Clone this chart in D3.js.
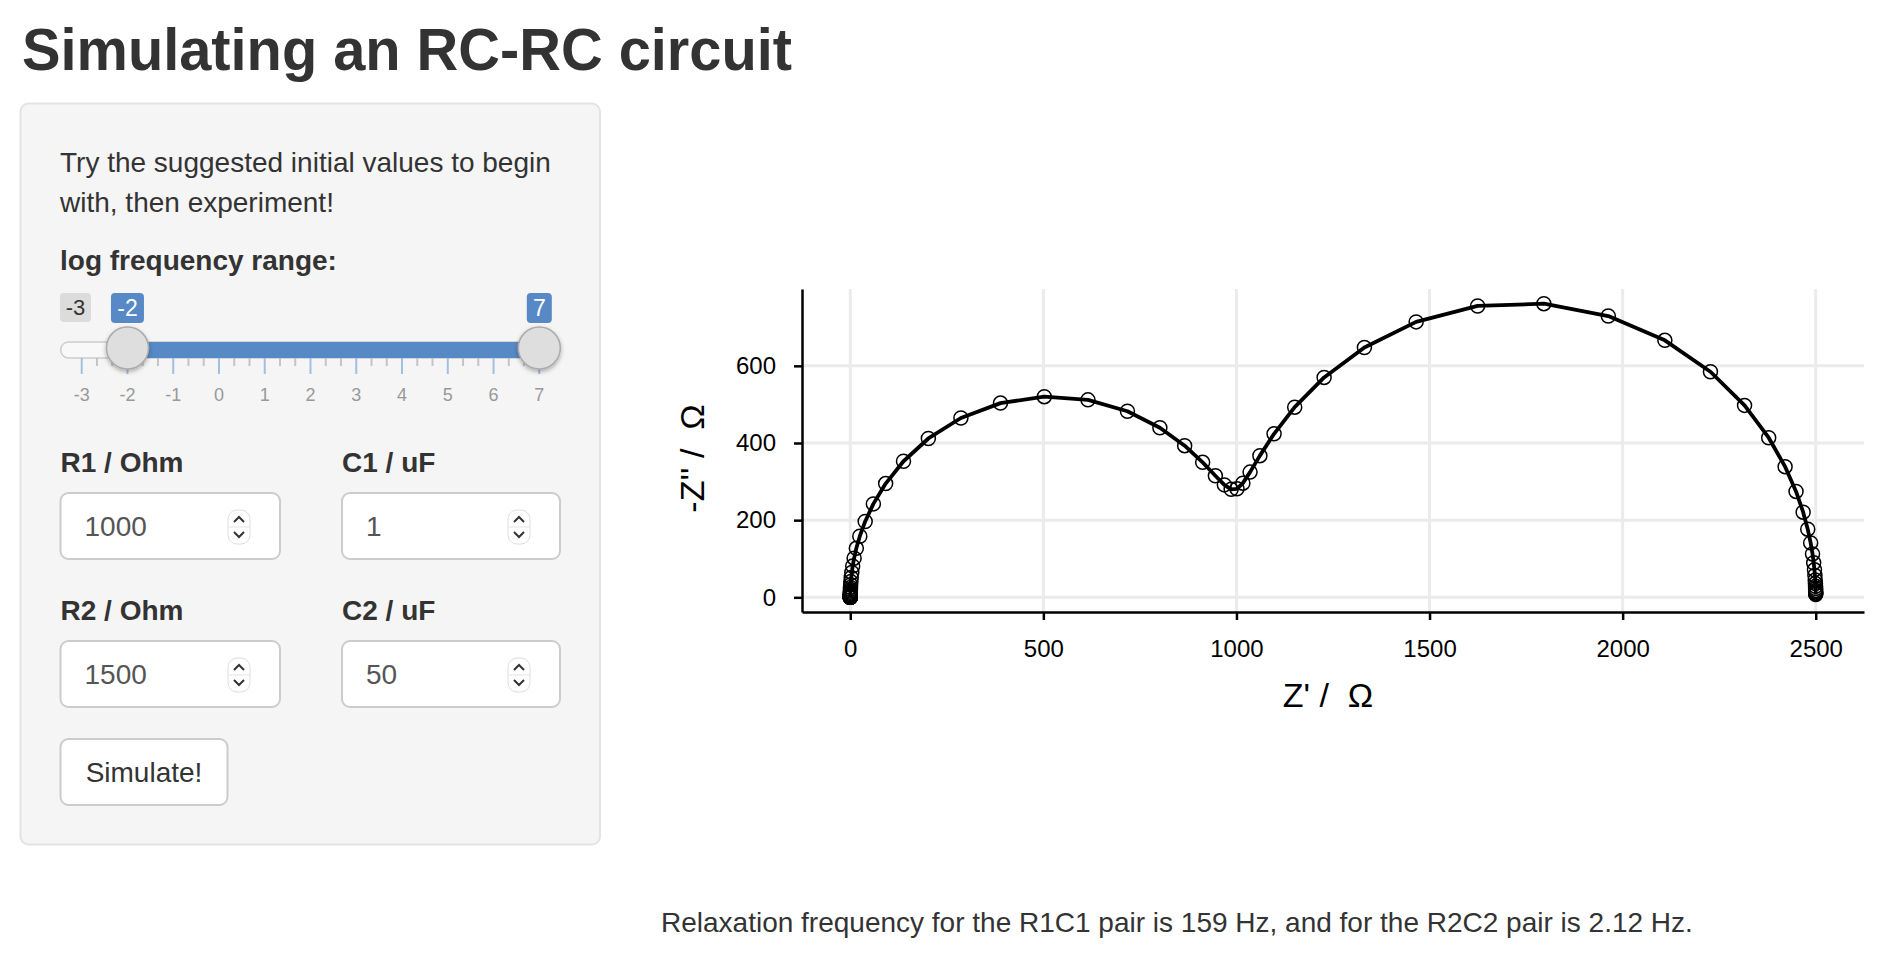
<!DOCTYPE html>
<html>
<head>
<meta charset="utf-8">
<script src="https://cdn.jsdelivr.net/npm/d3@7"></script>
<style>
  html, body { margin: 0; padding: 0; background: #fff; }
  svg { display: block; font-family: "Liberation Sans", Arial, Helvetica, sans-serif; }
</style>
</head>
<body>
<svg id="page" width="1882" height="960"></svg>
<script>
// ---------------- data ----------------
const zReal = [2500.0, 2500.0, 2499.9, 2499.9, 2499.8, 2499.7, 2499.5, 2499.2, 2498.7, 2497.9,
  2496.7, 2494.7, 2491.7, 2486.9, 2479.3, 2467.4, 2449.0, 2420.7, 2378.2, 2315.7,
  2227.4, 2109.4, 1962.8, 1796.0, 1624.5, 1465.3, 1331.3, 1227.0, 1150.8, 1097.4,
  1060.7, 1035.2, 1016.6, 1001.3, 986.3, 968.7, 945.4, 912.5, 865.9, 801.7,
  717.7, 615.5, 502.4, 389.0, 286.5, 202.2, 137.8, 91.6, 59.8, 38.6,
  24.7, 15.7, 10.0, 6.3, 4.0, 2.5, 1.6, 1.0, 0.6, 0.4,
  0.3, 0.2, 0.1, 0.1, 0, 0, 0, 0, 0, 0,
  0, 0, 0, 0, 0, 0, 0, 0, 0, 0,
  0, 0, 0, 0, 0, 0, 0, 0, 0, 0, 0];
const zImagNeg = [7.1, 9.0, 11.3, 14.2, 17.9, 22.6, 28.4, 35.7, 45.0, 56.6,
  71.2, 89.5, 112.4, 141.1, 176.7, 220.7, 274.4, 338.7, 413.7, 497.5,
  584.7, 666.1, 729.1, 761.1, 755.2, 713.9, 647.6, 570.0, 492.8, 423.8,
  367.2, 324.5, 295.9, 281.2, 279.8, 291.4, 315.1, 349.9, 393.0, 439.6,
  482.3, 511.8, 520.1, 503.4, 464.8, 411.7, 352.7, 294.8, 242.2, 196.6,
  158.4, 127.0, 101.4, 80.9, 64.4, 51.2, 40.7, 32.4, 25.7, 20.4,
  16.2, 12.9, 10.2, 8.1, 6.5, 5.1, 4.1, 3.2, 2.6, 2.0,
  1.6, 1.3, 1.0, 0.8, 0.6, 0.5, 0.4, 0.3, 0.3, 0.2,
  0.2, 0.1, 0.1, 0.1, 0.1, 0.1, 0, 0, 0, 0, 0];
const xTicks = [0, 500, 1000, 1500, 2000, 2500];
const yTicks = [0, 200, 400, 600];

const sliderTicks = [-3, -2, -1, 0, 1, 2, 3, 4, 5, 6, 7];
const sliderMin = -3, sliderMax = 7;
const sliderFrom = -2, sliderTo = 7;

const inputLabels = ["R1 / Ohm", "C1 / uF", "R2 / Ohm", "C2 / uF"];
const inputValues = ["1000", "1", "1500", "50"];

const titleText = "Simulating an RC-RC circuit";
const introLines = ["Try the suggested initial values to begin", "with, then experiment!"];
const sliderLabel = "log frequency range:";
const buttonText = "Simulate!";
const footerText = "Relaxation frequency for the R1C1 pair is 159 Hz, and for the R2C2 pair is 2.12 Hz.";

// ---------------- page ----------------
const svg = d3.select("#page");
const defs = svg.append("defs");
const shadow = defs.append("filter").attr("id", "hshadow").attr("x", "-50%").attr("y", "-50%").attr("width", "200%").attr("height", "200%");
shadow.append("feDropShadow").attr("dx", 0).attr("dy", 2).attr("stdDeviation", 2).attr("flood-color", "#000").attr("flood-opacity", 0.3);

const textCol = "#333333";
const blue = "#5689c6";

svg.append("text").attr("x", 22).attr("y", 70)
  .attr("font-size", 60).attr("font-weight", 700).attr("fill", textCol)
  .attr("textLength", 770).attr("lengthAdjust", "spacingAndGlyphs")
  .text(titleText);

// sidebar well
svg.append("rect").attr("x", 20.5).attr("y", 103.5).attr("width", 579.5).attr("height", 741)
  .attr("rx", 8).attr("fill", "#f5f5f5").attr("stroke", "#e3e3e3").attr("stroke-width", 2);

introLines.forEach((t, i) => {
  svg.append("text").attr("x", 60).attr("y", 172 + i * 40).attr("font-size", 28).attr("fill", textCol).text(t);
});
svg.append("text").attr("x", 60).attr("y", 270).attr("font-size", 28).attr("font-weight", 700).attr("fill", textCol).text(sliderLabel);

// slider
const sx = d3.scaleLinear().domain([sliderMin, sliderMax]).range([81.7, 539.3]);
const sl = svg.append("g");
sl.append("rect").attr("x", 60).attr("y", 293).attr("width", 31).attr("height", 29).attr("rx", 4).attr("fill", "rgba(0,0,0,0.1)");
sl.append("text").attr("x", 75.5).attr("y", 315).attr("text-anchor", "middle").attr("font-size", 22).attr("fill", textCol).text(String(sliderMin));
[[sliderFrom, 33], [sliderTo, 25]].forEach(([v, w]) => {
  sl.append("rect").attr("x", sx(v) - w / 2).attr("y", 293).attr("width", w).attr("height", 30).attr("rx", 4).attr("fill", blue);
  sl.append("text").attr("x", sx(v)).attr("y", 316).attr("text-anchor", "middle").attr("font-size", 23).attr("fill", "#fff").text(String(v));
});
sl.append("rect").attr("x", 60.7).attr("y", 342).attr("width", 499).attr("height", 16).attr("rx", 8)
  .attr("fill", "#f8f8f8").attr("stroke", "#cccccc").attr("stroke-width", 1.5);
const minor = [];
sliderTicks.slice(0, -1).forEach(v => { minor.push(v + 1 / 3); minor.push(v + 2 / 3); });
sl.selectAll("line.minor").data(minor).join("line").attr("class", "minor")
  .attr("x1", d => sx(d)).attr("x2", d => sx(d)).attr("y1", 358).attr("y2", 366)
  .attr("stroke", "#c4c4c4").attr("stroke-width", 2);
sl.selectAll("line.major").data(sliderTicks).join("line").attr("class", "major")
  .attr("x1", d => sx(d)).attr("x2", d => sx(d)).attr("y1", 358).attr("y2", 374)
  .attr("stroke", "#a3bfe0").attr("stroke-width", 2);
sl.selectAll("text.grid").data(sliderTicks).join("text").attr("class", "grid")
  .attr("x", d => sx(d)).attr("y", 401).attr("text-anchor", "middle").attr("font-size", 18).attr("fill", "#999999")
  .text(d => String(d));
sl.append("rect").attr("x", sx(sliderFrom)).attr("y", 342).attr("width", sx(sliderTo) - sx(sliderFrom)).attr("height", 16).attr("fill", blue);
[sliderFrom, sliderTo].forEach(v => {
  sl.append("circle").attr("cx", sx(v)).attr("cy", 348).attr("r", 21)
    .attr("fill", "#dedede").attr("stroke", "#ababab").attr("stroke-width", 1.5).attr("filter", "url(#hshadow)");
});

// numeric inputs
const boxes = [
  { x: 60.5, y: 493, w: 219.5 }, { x: 342, y: 493, w: 218 },
  { x: 60.5, y: 641, w: 219.5 }, { x: 342, y: 641, w: 218 }
];
boxes.forEach((b, i) => {
  svg.append("text").attr("x", b.x).attr("y", b.y - 21).attr("font-size", 28).attr("font-weight", 700).attr("fill", textCol).text(inputLabels[i]);
  svg.append("rect").attr("x", b.x).attr("y", b.y).attr("width", b.w).attr("height", 66).attr("rx", 8)
    .attr("fill", "#fff").attr("stroke", "#cccccc").attr("stroke-width", 2);
  svg.append("text").attr("x", b.x + 24).attr("y", b.y + 43).attr("font-size", 28).attr("fill", "#555555").text(inputValues[i]);
  const cx = b.x + b.w - 41, cy = b.y + 34;
  const sp = svg.append("g");
  sp.append("rect").attr("x", cx - 11).attr("y", cy - 17).attr("width", 22).attr("height", 34).attr("rx", 9)
    .attr("fill", "#fff").attr("stroke", "#dddddd").attr("stroke-width", 1);
  sp.append("line").attr("x1", cx - 10).attr("x2", cx + 10).attr("y1", cy).attr("y2", cy).attr("stroke", "#e4e4e4").attr("stroke-width", 1);
  sp.append("path").attr("d", `M${cx - 5},${cy - 5} L${cx},${cy - 10} L${cx + 5},${cy - 5}`).attr("fill", "none").attr("stroke", "#333").attr("stroke-width", 2);
  sp.append("path").attr("d", `M${cx - 5},${cy + 5} L${cx},${cy + 10} L${cx + 5},${cy + 5}`).attr("fill", "none").attr("stroke", "#333").attr("stroke-width", 2);
});

svg.append("rect").attr("x", 60.5).attr("y", 739).attr("width", 167).attr("height", 66).attr("rx", 8)
  .attr("fill", "#fff").attr("stroke", "#cccccc").attr("stroke-width", 2);
svg.append("text").attr("x", 144).attr("y", 782).attr("text-anchor", "middle").attr("font-size", 28).attr("fill", textCol).text(buttonText);

// ---------------- Nyquist chart ----------------
const pts = zReal.map((d, i) => ({ x: d, y: zImagNeg[i] }));
const xe = d3.extent(zReal), ye = d3.extent(zImagNeg);
const xp = (xe[1] - xe[0]) * 0.05, yp = (ye[1] - ye[0]) * 0.05;
const pLeft = 802, pRight = 1864, pTop = 289, pBottom = 612;
const x = d3.scaleLinear().domain([xe[0] - xp, xe[1] + xp]).range([pLeft, pRight]);
const y = d3.scaleLinear().domain([ye[0] - yp, ye[1] + yp]).range([pBottom, pTop]);

const chart = svg.append("g");
chart.selectAll("line.vg").data(xTicks).join("line").attr("class", "vg")
  .attr("x1", d => x(d)).attr("x2", d => x(d)).attr("y1", pTop).attr("y2", pBottom)
  .attr("stroke", "#ebebeb").attr("stroke-width", 3);
chart.selectAll("line.hg").data(yTicks).join("line").attr("class", "hg")
  .attr("x1", pLeft).attr("x2", pRight).attr("y1", d => y(d)).attr("y2", d => y(d))
  .attr("stroke", "#ebebeb").attr("stroke-width", 3);

chart.append("path").datum(pts)
  .attr("d", d3.line().x(d => x(d.x)).y(d => y(d.y)))
  .attr("fill", "none").attr("stroke", "#000").attr("stroke-width", 3.8).attr("stroke-linejoin", "round");

chart.selectAll("circle.pt").data(pts).join("circle").attr("class", "pt")
  .attr("cx", d => x(d.x)).attr("cy", d => y(d.y)).attr("r", 7)
  .attr("fill", "none").attr("stroke", "#000").attr("stroke-width", 1.5);

const xAxis = chart.append("g").attr("transform", `translate(0,${pBottom})`)
  .call(d3.axisBottom(x).tickValues(xTicks).tickFormat(d3.format("d")).tickSize(8).tickSizeOuter(0).tickPadding(20));
const yAxis = chart.append("g").attr("transform", `translate(${pLeft},0)`)
  .call(d3.axisLeft(y).tickValues(yTicks).tickFormat(d3.format("d")).tickSize(8).tickSizeOuter(0).tickPadding(18));
[xAxis, yAxis].forEach(a => {
  a.select(".domain").attr("stroke", "#000").attr("stroke-width", 2.5);
  a.selectAll(".tick line").attr("stroke", "#000").attr("stroke-width", 2.5);
  a.selectAll(".tick text").attr("fill", "#000").attr("font-size", 24)
    .attr("font-family", "'Liberation Sans', Arial, Helvetica, sans-serif");
});

chart.append("text").attr("x", 1328).attr("y", 707).attr("text-anchor", "middle")
  .attr("font-size", 34).attr("fill", "#000").text("Z' /\u00a0\u00a0\u03a9");
chart.append("text").attr("transform", "translate(704,458.5) rotate(-90)").attr("text-anchor", "middle")
  .attr("font-size", 34).attr("fill", "#000").text("-Z'' /\u00a0\u00a0\u03a9");

svg.append("text").attr("x", 661).attr("y", 932).attr("font-size", 28).attr("fill", textCol).text(footerText);
</script>
</body>
</html>
